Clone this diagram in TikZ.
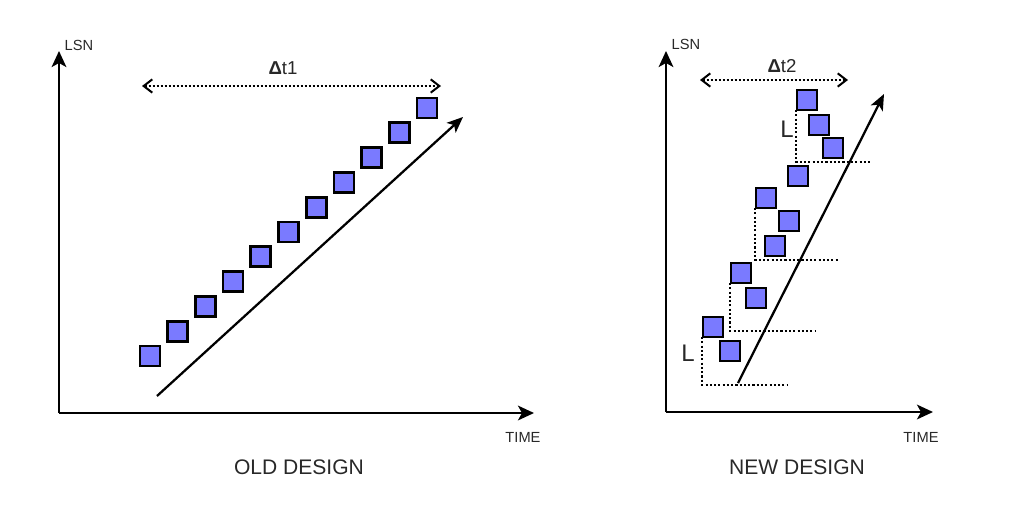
\documentclass[tikz,border=0pt]{standalone}
\usepackage{fontspec}
\setmainfont{Liberation Sans}
\usetikzlibrary{arrows.meta,backgrounds}
\definecolor{sqfill}{RGB}{122,122,255}
\definecolor{txt}{RGB}{40,40,40}
\tikzset{
  sq/.style={draw=black, fill=sqfill, line width=2pt, minimum size=15pt, inner sep=0pt, outer sep=0pt},
  axis/.style={line width=1.8pt, -{Stealth[length=12pt,width=11pt,inset=3pt]}},
  trend/.style={line width=1.7pt, -{Stealth[length=12pt,width=10pt,inset=3pt]}},
  span/.style={line width=1.5pt, dash pattern=on 1.5pt off 1.5pt, {Straight Barb[length=6.5pt,width=10pt,line width=1.5pt]}-{Straight Barb[length=6.5pt,width=10pt,line width=1.5pt]}},
  lev/.style={line width=1.6pt, dash pattern=on 1.6pt off 1.6pt},
  small/.style={text=txt, font=\fontsize{11}{13}\selectfont, inner sep=0pt},
  lbl/.style={text=txt, font=\fontsize{15.8}{18}\selectfont, inner sep=0pt},
  dlbl/.style={text=txt, font=\fontsize{14}{16}\selectfont, inner sep=0pt},
  llbl/.style={text=txt, font=\fontsize{18}{20}\selectfont, inner sep=0pt}
}
\begin{document}
\begin{tikzpicture}[x=0.75pt,y=-0.75pt]
\useasboundingbox (0,0) rectangle (1020,508);
% ---------- OLD DESIGN ----------
\coordinate (o1) at (59,413);
\coordinate (y1) at (59,51);
\coordinate (x1) at (534,413);
\draw[axis] (o1) -- (y1);
\draw[axis] (o1) -- (x1);
\node[small] (lsn1) at (79,45) {LSN};
\node[small] (time1) at (523,437) {TIME};
\node[lbl] (old) at (299,467) {OLD DESIGN};
\coordinate (d1a) at (142,86);
\coordinate (d1b) at (441,86);
\draw[span] (d1a) -- (d1b);
\node[dlbl] (dt1) at (283,68) {\textbf{Δ}t1};
\foreach \i in {0,...,10} {
  \node[sq] (os\i) at ({150+27.7*\i},{356-24.8*\i}) {};
}
\coordinate (t1a) at (157,396);
\coordinate (t1b) at (463,117);
\draw[trend] (t1a) -- (t1b);
% ---------- NEW DESIGN ----------
\coordinate (o2) at (666,412);
\coordinate (y2) at (666,51);
\coordinate (x2) at (933,412);
\draw[axis] (o2) -- (y2);
\draw[axis] (o2) -- (x2);
\node[small] (lsn2) at (686,44) {LSN};
\node[small] (time2) at (921,437) {TIME};
\node[lbl] (new) at (797,467) {NEW DESIGN};
\coordinate (d2a) at (700,80);
\coordinate (d2b) at (848,80);
\draw[span] (d2a) -- (d2b);
\node[dlbl] (dt2) at (782,66) {\textbf{Δ}t2};
% squares
\node[sq] (A) at (713,327) {};
\node[sq] (B) at (730,351) {};
\node[sq] (C) at (741,273) {};
\node[sq] (D) at (756,298) {};
\node[sq] (E) at (766,198) {};
\node[sq] (F) at (789,221) {};
\node[sq] (G) at (775,246) {};
\node[sq] (H) at (798,176) {};
\node[sq] (I) at (807,100) {};
\node[sq] (J) at (819,125) {};
\node[sq] (K) at (833,148) {};
% level lines (behind squares)
\coordinate (l1) at (787,385);
\coordinate (l2) at (815,331);
\coordinate (l3) at (839,260);
\coordinate (l4) at (872,162);
\begin{scope}[on background layer]
\draw[lev] ([xshift=-0.5pt]A.south west) |- (l1);
\draw[lev] ([xshift=-0.5pt]C.south west) |- (l2);
\draw[lev] ([xshift=-0.5pt]E.south west) |- (l3);
\draw[lev] ([xshift=-0.5pt]I.south west) |- (l4);
\end{scope}
\node[llbl] (L1) at (688,353) {L};
\node[llbl] (L2) at (787,129) {L};
\coordinate (t2a) at (738,383);
\coordinate (t2b) at (884,94);
\draw[trend] (t2a) -- (t2b);
\end{tikzpicture}
\end{document}
